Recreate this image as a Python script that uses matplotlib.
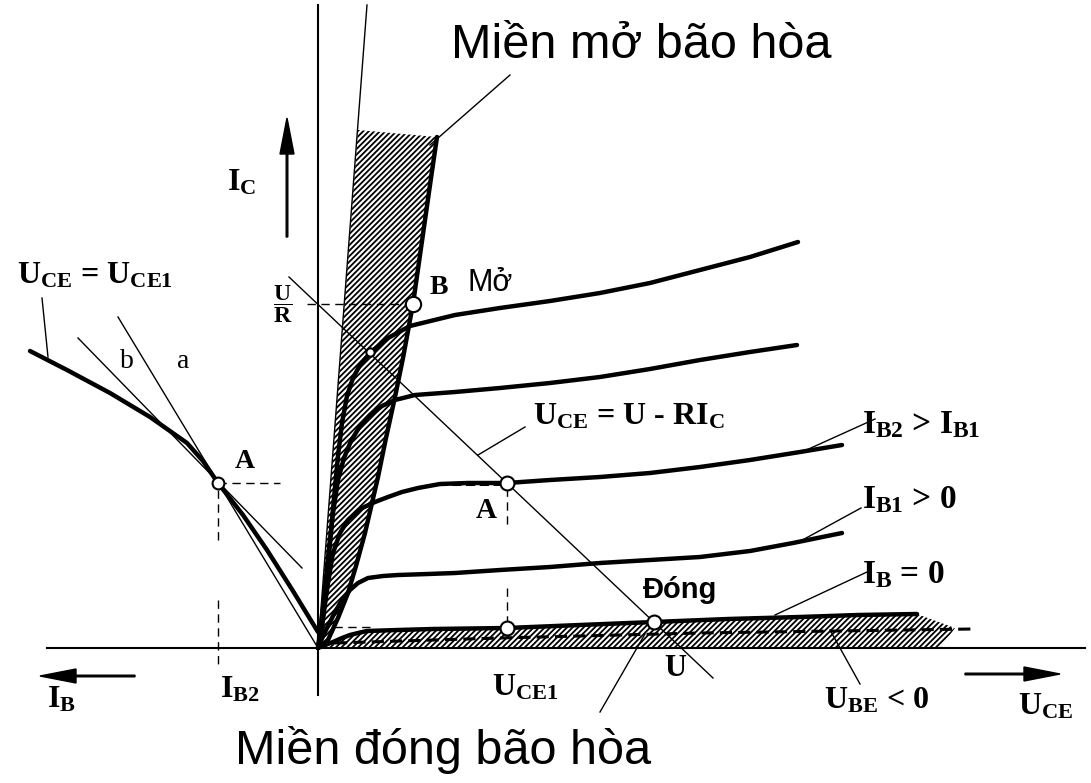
import matplotlib
matplotlib.use("Agg")
import matplotlib.pyplot as plt

plt.rcParams['mathtext.fontset'] = 'custom'
plt.rcParams['mathtext.rm'] = 'Liberation Serif:bold'
plt.rcParams['mathtext.it'] = 'Liberation Serif:bold'
plt.rcParams['mathtext.bf'] = 'Liberation Serif:bold'
plt.rcParams['mathtext.default'] = 'rm'
plt.rcParams['hatch.linewidth'] = 1.3
plt.rcParams['hatch.color'] = 'black'

SANS = ['Liberation Sans', 'DejaVu Sans']
SERIF = ['Liberation Serif', 'DejaVu Serif']

# ---- output characteristics I_C(U_CE), diagram units (U_CE right, I_C up) ----
uce_top = [0, 4, 8, 12, 16, 20, 24, 29, 35, 42, 52, 70, 92, 137, 182, 232, 282, 332, 382, 432, 480]
ic_top = [0, 20, 60, 105, 150, 192, 225, 252, 270, 283, 295, 310, 322, 333, 340, 347, 355, 365, 378, 391, 406]

uce_2 = [0, 5, 10, 15, 20, 26, 33, 42, 52, 64, 77, 97, 137, 182, 232, 282, 332, 382, 432, 479]
ic_2 = [0, 40, 90, 135, 168, 190, 207, 222, 233, 242, 248, 253, 256, 260, 265, 271, 279, 288, 296, 303]

uce_ib2 = [0, 5, 10, 15, 22, 30, 42, 57, 70, 84, 100, 122, 150, 189, 232, 282, 332, 382, 432, 482, 524]
ic_ib2 = [0, 30, 65, 95, 115, 128, 139, 146, 151, 156, 160, 164, 165, 165, 168, 171, 175, 181, 188, 196, 203]

uce_ib1 = [0, 5, 10, 17, 24, 32, 40, 50, 65, 80, 110, 137, 182, 232, 282, 332, 382, 432, 475, 524]
ic_ib1 = [0, 12, 22, 36, 48, 58, 65, 70, 72, 73, 74, 75, 78, 81, 85, 88, 91, 97, 105, 115]

uce_ib0 = [0, 7, 15, 24, 32, 40, 49, 80, 115, 189, 262, 336, 410, 482, 540, 599]
ic_ib0 = [0, 3, 6, 10, 13, 15, 17, 18, 19, 20, 23, 26, 29, 31, 33, 34]

# U_BE < 0 (reverse-biased) leakage characteristic
uce_ube = [17, 182, 382, 654]
ic_ube = [5, 10, 15, 19]

# saturation boundary (right edge of the "open" saturation region)
uce_sat = [0, 10, 20, 30, 38, 47, 54, 60, 68, 77, 85, 92, 95, 101, 107, 113, 119]
ic_sat = [0, 8, 30, 55, 82, 115, 145, 171, 210, 251, 290, 328, 344, 386, 428, 470, 511]

# steep reference line through the origin (left edge of saturation region)
uce_steep = [0, 49]
ic_steep = [0, 643]

# load line U_CE = U - R*I_C
uce_load = [-29, 395]
ic_load = [371, -30]

# input characteristic (left quadrant): I_B drawn leftwards
ib_input = [-288, -251, -208, -168, -131, -115, -100, -75, -51, -25, 0]
ic_input = [297, 278, 255, 231, 205, 187, 165, 133, 98, 57, 16]
ib_line_a = [-200, 0]
ic_line_a = [331, 0]
ib_line_b = [-240, -16]
ic_line_b = [310, 80]

# operating points
pt_A_left = (-100, 165)
pt_A = (189, 165)
pt_B = (95, 344)
pt_sat = (52, 296)
pt_uce1 = (189, 20)
pt_off = (336, 26)

fig = plt.figure(figsize=(10.91, 7.83), dpi=100)
ax = fig.add_axes([0, 0, 1, 1])
ax.set_xlim(-318, 773)
ax.set_ylim(-135, 648)
ax.axis('off')

THICK = 3.2
THIN = 1.0

# hatched regions (edge drawn with zero width, hatch takes the edge colour)
sat_x = uce_steep[:1] + [40] + uce_sat[::-1]
sat_y = ic_steep[:1] + [518] + ic_sat[::-1]
ax.fill(sat_x, sat_y, facecolor='white', edgecolor='black', hatch='//////', lw=0, zorder=1)
off_x = uce_ib0 + [637, 622]
off_y = ic_ib0 + [20, 0]
ax.fill(off_x, off_y, facecolor='white', edgecolor='black', hatch='//////', lw=0, zorder=1)

# axes
ax.plot([0, 0], [-47, 643], color='k', lw=1.5, zorder=3)
ax.plot([-271, 767], [0, 0], color='k', lw=1.5, zorder=3)

# axis direction arrows
arrow_kw = dict(width=1.6, head_width=14, head_length=36, length_includes_head=True,
                fc='k', ec='k', zorder=4)
ax.arrow(-31, 411, 0, 119, **arrow_kw)
ax.arrow(-183, -28, -95, 0, **arrow_kw)
ax.arrow(647, -26, 95, 0, **arrow_kw)

# thin construction lines
ax.plot(uce_steep, ic_steep, color='k', lw=THIN, zorder=3)
ax.plot(uce_load, ic_load, color='k', lw=THIN, zorder=3)
ax.plot(ib_line_a, ic_line_a, color='k', lw=THIN, zorder=3)
ax.plot(ib_line_b, ic_line_b, color='k', lw=THIN, zorder=3)

# characteristic curves
for xs, ys in [(uce_top, ic_top), (uce_2, ic_2), (uce_ib2, ic_ib2),
               (uce_ib1, ic_ib1), (uce_ib0, ic_ib0), (uce_sat, ic_sat),
               (ib_input, ic_input)]:
    ax.plot(xs, ys, color='k', lw=THICK, solid_capstyle='round', solid_joinstyle='round', zorder=3)

ax.plot(uce_ube, ic_ube, color='k', lw=2.2, dashes=(4, 2), zorder=3)
ax.plot([120, 182], [164, 164], color='k', lw=2.2, dashes=(3, 1.5), zorder=3)

# dashed projection lines
dkw = dict(color='k', lw=THIN, dashes=(6, 4), zorder=3)
ax.plot([-11, 92], [344, 344], **dkw)
ax.plot([-100, -38], [165, 165], **dkw)
ax.plot([-100, -100], [158, 108], **dkw)
ax.plot([-100, -100], [48, -17], **dkw)
ax.plot([189, 189], [160, 121], **dkw)
ax.plot([189, 189], [60, 25], **dkw)
ax.plot([2, 54], [21, 21], **dkw)

# leader lines
for (x0, y0), (x1, y1) in [((112, 503), (192, 573)), ((282, -64), (327, 14)),
                           ((160, 193), (207, 221)), ((484, 196), (557, 229)),
                           ((479, 105), (543, 140)), ((457, 33), (549, 76)),
                           ((512, 18), (542, -36)), ((-276, 350), (-270, 291))]:
    ax.plot([x0, x1], [y0, y1], color='k', lw=THIN, zorder=3)

# operating points
for (px, py), ms in [(pt_A_left, 8.5), (pt_A, 10), (pt_B, 11), (pt_sat, 6),
                     (pt_uce1, 10), (pt_off, 10)]:
    ax.plot(px, py, 'o', ms=ms, mfc='white', mec='k', mew=1.5, zorder=5)

# region titles
ax.text(323, 603, 'Miền mở bão hòa', fontsize=35, family=SANS, ha='center', va='center')
ax.text(125, -102, 'Miền đóng bão hòa', fontsize=35, family=SANS, ha='center', va='center')
ax.text(172, 365, 'Mở', fontsize=22, family=SANS, ha='center', va='center')
ax.text(362, 58, 'Đóng', fontsize=21, family=SANS, weight='bold', ha='center', va='center')

# serif labels
skw = dict(family=SERIF, weight='bold', ha='center', va='center')
ax.text(121, 360, 'B', fontsize=20, **skw)
ax.text(-73, 187, 'A', fontsize=20, **skw)
ax.text(168, 137, 'A', fontsize=21, **skw)
ax.text(-191, 287, 'b', fontsize=20, family=SERIF, ha='center', va='center')
ax.text(-135, 286, 'a', fontsize=20, family=SERIF, ha='center', va='center')
ax.text(357, -20, 'U', fontsize=22, **skw)

mkw = dict(ha='center', va='center')
ax.text(-35, 344, r'$\dfrac{U}{R}$', fontsize=17, **mkw)
ax.text(-76, 466, r'$I_{C}$', fontsize=23, **mkw)
ax.text(-257, -51, r'$I_{B}$', fontsize=23, **mkw)
ax.text(-78, -41, r'$I_{B2}$', fontsize=23, **mkw)
ax.text(207, -39, r'$U_{CE1}$', fontsize=23, **mkw)
ax.text(559, -53, r'$U_{BE}$ < 0', fontsize=23, family=SERIF, weight='bold', **mkw)
ax.text(728, -58, r'$U_{CE}$', fontsize=23, **mkw)

lkw = dict(ha='left', va='center', family=SERIF, weight='bold')
ax.text(544, 223, r'$I_{B2}$ > $I_{B1}$', fontsize=24, **lkw)
ax.text(544, 148, r'$I_{B1}$ > 0', fontsize=24, **lkw)
ax.text(544, 73, r'$I_{B}$ = 0', fontsize=24, **lkw)
ax.text(-301, 372, r'$U_{CE}$ = $U_{CE1}$', fontsize=23, **lkw)
ax.text(215, 231, r'$U_{CE}$ = U - R$I_{C}$', fontsize=23, **lkw)

fig.savefig('out.png', dpi=100, facecolor='white')
